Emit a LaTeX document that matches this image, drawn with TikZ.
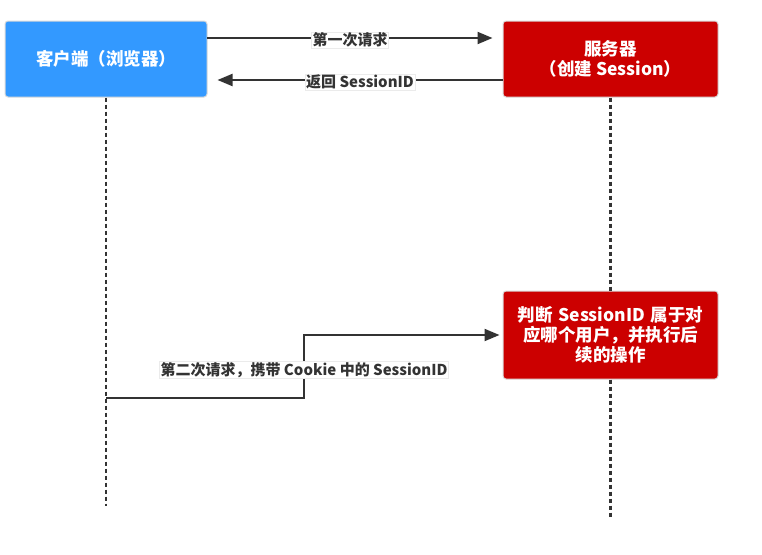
\documentclass[tikz,border=0pt]{standalone}
\usepackage{fontspec}
\setmainfont{Noto Sans CJK SC}
\usetikzlibrary{arrows.meta,positioning}
\definecolor{clientblue}{HTML}{3399FF}
\definecolor{serverred}{HTML}{CC0000}
\definecolor{wire}{HTML}{333333}

\begin{document}
\begin{tikzpicture}[x=1pt,y=-1pt,
	actor/.style={draw=black!15,line width=1pt,rounded corners=3pt,text=white,align=center,
		font=\bfseries\fontsize{17.5}{20}\selectfont,minimum height=76pt},
	lifeline/.style={draw=wire,line width=2.2pt,dash pattern=on 4pt off 3pt},
	msg/.style={draw=wire,line width=2pt,-{Triangle[length=15pt,width=12pt]}},
	msglabel/.style={fill=white,draw=black!8,line width=0.4pt,inner sep=1pt,
		font=\bfseries\fontsize{15}{17}\selectfont,text=wire}]
	\useasboundingbox (0,0) rectangle (762,554);
	\node [actor,fill=clientblue,minimum width=202pt] (client) at (106,59) {客户端（浏览器）};
	\node [actor,fill=serverred,minimum width=215pt] (server) at (610.5,59) {服务器\\（创建 Session）};
	\node [actor,fill=serverred,minimum width=215pt,minimum height=88pt,text width=200pt] (judge) at (610.5,335) {判断 SessionID 属于对\\应哪个用户，并执行后\\续的操作};
	\coordinate (clientend) at (106,506);
	\coordinate (serverend) at (610.5,518);
	\draw [lifeline] (client.south) -- (clientend);
	\draw [lifeline] (server.south) -- (judge.north);
	\draw [lifeline] (judge.south) -- (serverend);
	% first request and reply
	\coordinate (req) at (207,38);
	\coordinate (rep) at (503,80);
	\draw [msg,shorten >=10pt] (req) -- (server.west |- req);
	\draw [msg,shorten >=10pt] (rep) -- (client.east |- rep);
	\node [msglabel] (reqlabel) at (350,40) {第一次请求};
	\node [msglabel] (replabel) at (360,82) {返回 SessionID};
	% second request
	\coordinate (ask) at (106,398);
	\draw [msg,shorten >=3pt] (ask) -- ++(198,0) |- (judge.west);
	\node [msglabel] (asklabel) at (304,370) {第二次请求，携带 Cookie 中的 SessionID};
\end{tikzpicture}
\end{document}
